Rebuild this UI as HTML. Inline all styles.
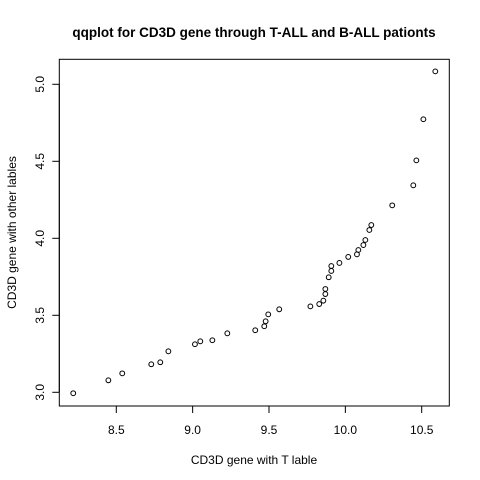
<!DOCTYPE html>
<html><head><meta charset="utf-8"><style>
html,body{margin:0;padding:0;background:#fff}
svg{display:block;font-family:"Liberation Sans",Arial,sans-serif}
</style></head><body>
<svg id="chart" width="480" height="480" viewBox="0 0 480 480">
<rect width="480" height="480" fill="#fff"/>
<text x="254" y="37" text-anchor="middle" font-size="13.5" font-weight="bold">qqplot for CD3D gene through T-ALL and B-ALL pationts</text>
<rect x="59.3" y="59.3" width="390" height="346.7" fill="none" stroke="#000" stroke-width="1"/>
<text x="254" y="464" text-anchor="middle" font-size="12">CD3D gene with T lable</text>
<text transform="translate(16,232.5) rotate(-90)" text-anchor="middle" font-size="12">CD3D gene with other lables</text>
<g id="xaxis"></g>
<g id="yaxis"></g>
<g id="points"></g>
</svg>
<script>
const xTicks = [8.5, 9.0, 9.5, 10.0, 10.5];
const xTickLabels = ["8.5", "9.0", "9.5", "10.0", "10.5"];
const yTicks = [3.0, 3.5, 4.0, 4.5, 5.0];
const yTickLabels = ["3.0", "3.5", "4.0", "4.5", "5.0"];
const xValues = [8.218,8.448,8.539,8.729,8.788,8.841,9.015,9.050,9.129,9.227,9.410,9.469,9.478,9.495,9.567,9.771,9.829,9.856,9.869,9.869,9.891,9.908,9.908,9.961,10.019,10.076,10.085,10.118,10.131,10.157,10.170,10.307,10.445,10.465,10.511,10.589];
const yValues = [2.994,3.078,3.123,3.182,3.195,3.266,3.312,3.331,3.338,3.383,3.403,3.429,3.461,3.506,3.539,3.558,3.573,3.595,3.638,3.671,3.747,3.788,3.820,3.840,3.879,3.896,3.924,3.956,3.989,4.054,4.086,4.214,4.344,4.506,4.773,5.084];

const NS = "http://www.w3.org/2000/svg";
function xs(v){ return 116.3 + (v - 8.5) * 152.7; }
function ys(v){ return 392.3 - (v - 3.0) * 154; }
function mk(tag, attrs){ const e = document.createElementNS(NS, tag); for (const k in attrs) e.setAttribute(k, attrs[k]); return e; }

const gx = document.getElementById("xaxis");
gx.appendChild(mk("line", {x1: xs(xTicks[0]), x2: xs(xTicks[xTicks.length-1]), y1: 406, y2: 406, stroke: "#000"}));
xTicks.forEach((t, i) => {
  const l = mk("line", {x1: xs(t), x2: xs(t), y1: 406, y2: 413, stroke: "#000"});
  
  
  gx.appendChild(l);
  const tx = mk("text", {x: xs(t), y: 434, "text-anchor": "middle", "font-size": "12"});
  
  
  tx.textContent = xTickLabels[i];
  gx.appendChild(tx);
});

const gy = document.getElementById("yaxis");
gy.appendChild(mk("line", {x1: 59.3, x2: 59.3, y1: ys(yTicks[0]), y2: ys(yTicks[yTicks.length-1]), stroke: "#000"}));
yTicks.forEach((t, i) => {
  const l = mk("line", {x1: 52.3, x2: 59.3, y1: ys(t), y2: ys(t), stroke: "#000"});
  
  
  gy.appendChild(l);
  const tx = mk("text", {transform: "translate(44," + ys(t) + ") rotate(-90)", "text-anchor": "middle", "font-size": "12"});
  
  
  tx.textContent = yTickLabels[i];
  gy.appendChild(tx);
});

const gp = document.getElementById("points");
xValues.forEach((v, i) => {
  const c = mk("circle", {cx: xs(v), cy: ys(yValues[i]), r: 2.4, fill: "none", stroke: "#000", "stroke-width": 1});
  
  
  gp.appendChild(c);
});
</script>
</body></html>
